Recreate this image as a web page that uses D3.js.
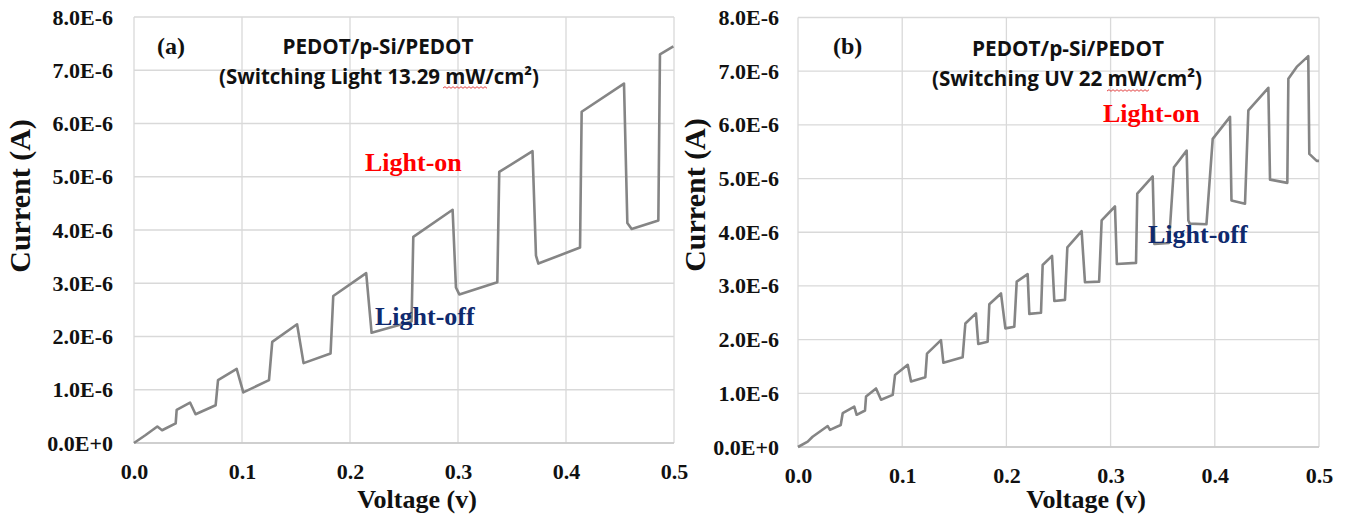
<!DOCTYPE html>
<meta charset="utf-8">
<style>
body { margin: 0; background: #fff; }
svg { display: block; }
.tick text { font-family: "Liberation Serif", "Times New Roman", serif; font-weight: bold; font-size: 22px; fill: #111; }
.grid line { stroke: #d9d9d9; stroke-width: 1.3; }
.curve { fill: none; stroke: #858585; stroke-width: 2.6; stroke-linejoin: round; }
.axtitle { font-family: "Liberation Serif", "Times New Roman", serif; font-weight: bold; fill: #111; }
.title { font-family: "Open Sans", "Liberation Sans", sans-serif; font-weight: bold; font-size: 21px; fill: #111; }
</style>
<body>
<script src="https://d3js.org/d3.v7.min.js"></script>
<script>
// current values are in microamps (1.0 = 1.0E-6 A)
var voltageA = [0, .0108, .0216, .026, .0386, .0395, .0519, .057, .0756, .0778, .0951, .1012, .125, .128, .151, .157, .182, .1845, .215, .220, .257, .2586, .295, .2981, .3012, .3364, .3382, .369, .3722, .3744, .413, .4145, .4537, .4568, .4608, .4855, .487, .4994];
var currentA = [0, .15, .31, .24, .37, .62, .76, .54, .71, 1.18, 1.39, .95, 1.18, 1.90, 2.23, 1.50, 1.68, 2.76, 3.19, 2.07, 2.28, 3.87, 4.38, 2.92, 2.79, 3.02, 5.09, 5.48, 3.52, 3.37, 3.67, 6.22, 6.75, 4.13, 4.02, 4.18, 7.30, 7.45];

var voltageB = [0, .0093, .014, .0285, .0307, .041, .0429, .054, .0563, .0643, .0653, .0749, .0797, .0909, .0931, .1053, .1085, .1222, .1238, .1372, .1395, .158, .1606, .1708, .173, .182, .1836, .1948, .199, .2076, .2099, .2204, .222, .2332, .2348, .2438, .246, .2562, .2585, .2722, .2754, .289, .2914, .3042, .306, .3244, .3256, .3404, .342, .356, .3608, .373, .3746, .376, .392, .398, .4146, .416, .429, .4322, .4514, .453, .4696, .4706, .4786, .4897, .4907, .4978, .5];
var currentB = [0, .10, .19, .39, .32, .41, .63, .75, .60, .68, .94, 1.09, .88, .97, 1.34, 1.53, 1.22, 1.30, 1.74, 1.99, 1.57, 1.67, 2.30, 2.49, 1.92, 1.96, 2.66, 2.86, 2.21, 2.24, 3.08, 3.22, 2.48, 2.50, 3.39, 3.56, 2.72, 2.74, 3.72, 4.02, 3.07, 3.08, 4.22, 4.48, 3.41, 3.43, 4.72, 5.04, 3.78, 3.80, 5.21, 5.52, 4.22, 4.16, 4.15, 5.74, 6.15, 4.59, 4.53, 6.27, 6.69, 4.98, 4.92, 6.86, 7.08, 7.28, 5.46, 5.33, 5.33];

var xTicks = [0, 0.1, 0.2, 0.3, 0.4, 0.5];
var yTicks = [0, 1, 2, 3, 4, 5, 6, 7, 8];
var titleLine1 = "PEDOT/p-Si/PEDOT";
var titleA = "(Switching Light 13.29 mW/cm\u00b2)";
var titleB = "(Switching UV 22 mW/cm\u00b2)";

var width = 1346, height = 515;

var svg = d3.select("body").append("svg")
    .attr("width", width)
    .attr("height", height);

function yFormat(d) {
  return d === 0 ? "0.0E+0" : d.toFixed(1) + "E-6";
}

function panel(opt) {
  var x = d3.scaleLinear().domain([0, 0.5]).range([0, opt.w]);
  var y = d3.scaleLinear().domain([0, 8]).range([opt.h, 0]);

  var g = svg.append("g")
      .attr("transform", "translate(" + opt.left + "," + opt.top + ")");

  // grid
  var grid = g.append("g").attr("class", "grid");
  grid.selectAll(".h").data(yTicks).enter().append("line")
      .attr("x1", 0).attr("x2", opt.w)
      .attr("y1", function(d) { return y(d); })
      .attr("y2", function(d) { return y(d); });
  grid.selectAll(".v").data(xTicks).enter().append("line")
      .attr("y1", 0).attr("y2", opt.h)
      .attr("x1", function(d) { return x(d); })
      .attr("x2", function(d) { return x(d); });

  g.append("line")
      .attr("x1", 0).attr("x2", opt.w)
      .attr("y1", opt.h).attr("y2", opt.h)
      .style("stroke", "#c8c8c8").style("stroke-width", 1.5);

  var yAxis = g.append("g")
      .call(d3.axisLeft(y).tickValues(yTicks).tickFormat(yFormat).tickSize(0).tickPadding(opt.ypad));
  var xAxis = g.append("g")
      .attr("transform", "translate(0," + opt.h + ")")
      .call(d3.axisBottom(x).tickValues(xTicks).tickFormat(d3.format(".1f")).tickSize(0).tickPadding(20));
  [yAxis, xAxis].forEach(function(a) {
    a.select(".domain").remove();
    a.attr("font-family", null).attr("font-size", null);
  });

  var pts = d3.zip(opt.vx, opt.iy);
  var line = d3.line()
      .x(function(d) { return x(d[0]); })
      .y(function(d) { return y(d[1]); });

  g.append("path")
      .datum(pts)
      .attr("class", "curve")
      .attr("d", line);
}

panel({ left: 134, top: 17, w: 540, h: 426, ypad: 21, vx: voltageA, iy: currentA });
panel({ left: 798, top: 17.5, w: 521, h: 429.5, ypad: 19, vx: voltageB, iy: currentB });

// axis titles
function label(txt, x, y, size, color, anchor, rot) {
  var t = svg.append("text")
      .attr("class", "axtitle")
      .attr("x", x).attr("y", y)
      .attr("text-anchor", anchor || "start")
      .style("font-size", size + "px")
      .text(txt);
  if (color) t.style("fill", color);
  if (rot) t.attr("transform", "rotate(-90," + x + "," + y + ")");
  return t;
}

label("Voltage (v)", 417, 508, 26, null, "middle");
label("Voltage (v)", 1086, 508, 26, null, "middle");
label("Current (A)", 30, 196, 30, null, "middle", true);
label("Current (A)", 705, 195, 30, null, "middle", true);

label("(a)", 157, 54, 24);
label("(b)", 833, 54, 24);

label("Light-on", 365, 171, 26, "#ff0000");
label("Light-off", 375, 325, 26, "#0f2a6e");
label("Light-on", 1103, 122, 26, "#ff0000");
label("Light-off", 1148, 243, 26, "#0f2a6e");

function title(txt, cx, y, len) {
  svg.append("text")
      .attr("class", "title")
      .attr("x", cx).attr("y", y)
      .attr("text-anchor", "middle")
      .attr("textLength", len)
      .attr("lengthAdjust", "spacingAndGlyphs")
      .text(txt);
}

title(titleLine1, 378, 54, 191);
title(titleA, 379, 84, 320);
title(titleLine1, 1068, 56, 192);
title(titleB, 1067, 86, 270);

// spell-check squiggle under "mW"
function squiggle(x0, x1, y) {
  var p = d3.path();
  p.moveTo(x0, y);
  var up = true;
  for (var xx = x0 + 2; xx <= x1; xx += 2) {
    p.lineTo(xx, up ? y - 1.3 : y + 0.3);
    up = !up;
  }
  svg.append("path").attr("d", p.toString())
      .style("fill", "none").style("stroke", "#e03030").style("stroke-width", 0.9);
}
squiggle(443, 487, 88);
squiggle(1107, 1149, 91);
</script>
</body>
